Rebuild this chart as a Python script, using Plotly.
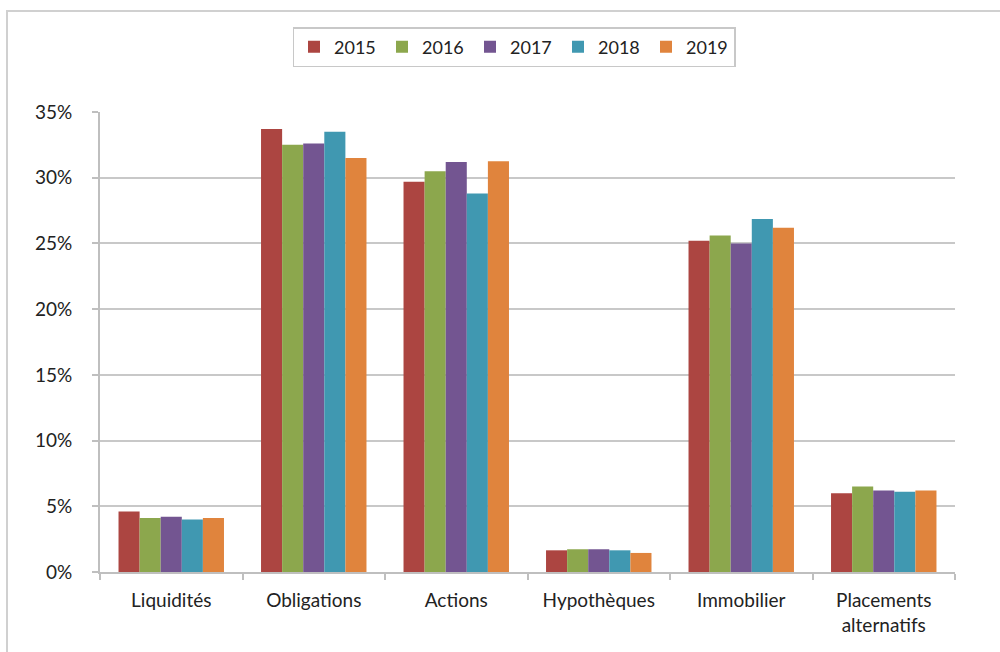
import plotly.graph_objects as go

categories = ["Liquidités", "Obligations", "Actions", "Hypothèques", "Immobilier", "Placements<br>alternatifs"]
years = ["2015", "2016", "2017", "2018", "2019"]
v2015 = [0.046, 0.337, 0.297, 0.0165, 0.252, 0.060]
v2016 = [0.041, 0.325, 0.305, 0.0173, 0.256, 0.065]
v2017 = [0.042, 0.326, 0.312, 0.0173, 0.250, 0.062]
v2018 = [0.040, 0.335, 0.288, 0.0165, 0.2685, 0.061]
v2019 = [0.041, 0.315, 0.3125, 0.0145, 0.262, 0.062]
series = [v2015, v2016, v2017, v2018, v2019]
colors = ["#AC4541", "#8CA74D", "#735591", "#4098B1", "#E0843D"]
tick_vals = [0, 0.05, 0.10, 0.15, 0.20, 0.25, 0.30, 0.35]

FONT = "Lato"
fig = go.Figure()
for name, vals, col in zip(years, series, colors):
    fig.add_trace(go.Bar(
        x=categories, y=vals, name=name,
        marker=dict(color=col, line=dict(color=col, width=0)),
    ))

W, H = 1000, 652
L, R, T, B = 100, 45, 112, 80
pw, ph = W - L - R, H - T - B

def px_x(px):
    return (px - L) / pw

def px_y(py):
    return (H - B - py) / ph

fig.update_layout(
    width=W, height=H,
    margin=dict(l=L, r=R, t=T, b=B),
    paper_bgcolor="white", plot_bgcolor="white",
    barmode="group", bargap=0.26, bargroupgap=0,
    font=dict(family=FONT, size=19, color="#222222"),
    legend=dict(
        orientation="h", x=px_x(514), xanchor="center",
        y=px_y(27), yanchor="top",
        bordercolor="#c8c8c8", borderwidth=1.5,
        font=dict(size=18, family=FONT),
        itemwidth=30, traceorder="normal",
        entrywidth=43, entrywidthmode="pixels",
    ),
    xaxis=dict(
        showline=True, linecolor="#bfbfbf", linewidth=2,
        ticks="outside", ticklen=6, tickcolor="#bfbfbf", tickwidth=1.5,
        tickson="boundaries", showgrid=False,
        ticklabelstandoff=10,
        tickfont=dict(size=19, family=FONT),
    ),
    yaxis=dict(
        range=[0, 0.35], tickvals=tick_vals, tickformat=".0%",
        showline=True, linecolor="#bfbfbf", linewidth=2,
        ticks="outside", ticklen=6, tickcolor="#bfbfbf", tickwidth=1.5,
        showgrid=True, gridcolor="#c8c8c8", gridwidth=2,
        zeroline=False, ticklabelstandoff=16,
        tickfont=dict(size=19, family=FONT),
    ),
    shapes=[dict(
        type="rect", xref="paper", yref="paper",
        x0=px_x(7), x1=px_x(1010), y0=px_y(700), y1=px_y(11),
        line=dict(color="#d0d0d0", width=2), fillcolor="rgba(0,0,0,0)", layer="below",
    )],
)

fig.write_html("out.html", config={"displayModeBar": False},
               post_script="document.body.style.margin='0px';")
